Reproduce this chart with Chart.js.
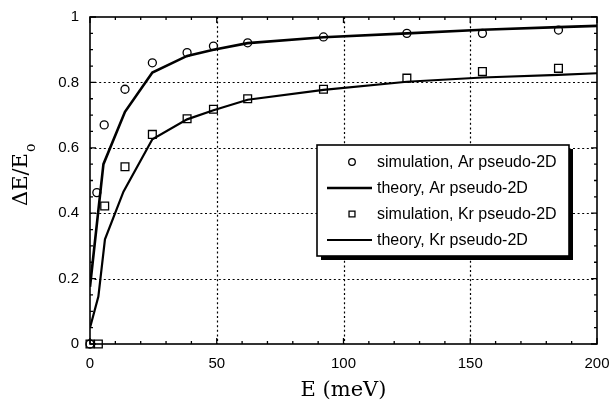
<!DOCTYPE html>
<html>
<head>
<meta charset="utf-8">
<script src="https://cdn.jsdelivr.net/npm/chart.js@4/dist/chart.umd.min.js"></script>
<style>
  html, body { margin: 0; padding: 0; background: #fff; }
  #wrap { width: 613px; height: 403px; }
</style>
</head>
<body>
<div id="wrap"><canvas id="c" width="613" height="403"></canvas></div>
<script>
// ---- data ----
const arSimE = [0, 2.7, 5.6, 13.8, 24.6, 38.3, 48.7, 62.2, 92.1, 125, 154.8, 184.8];
const arSimY = [0, 0.463, 0.670, 0.779, 0.860, 0.891, 0.911, 0.921, 0.939, 0.950, 0.950, 0.960];
const krSimE = [0, 3.3, 5.8, 13.8, 24.6, 38.3, 48.7, 62.2, 92.1, 125, 154.8, 184.8];
const krSimY = [0, 0, 0.422, 0.542, 0.641, 0.689, 0.718, 0.750, 0.779, 0.813, 0.833, 0.843];
const arThE = [0, 5.3, 13.8, 24.6, 38.3, 48.7, 62.2, 92.1, 125, 154.8, 184.8, 200];
const arThY = [0.175, 0.55, 0.71, 0.83, 0.881, 0.900, 0.920, 0.938, 0.950, 0.961, 0.969, 0.973];
const krThE = [0, 3.3, 5.9, 13.2, 24.6, 38.3, 48.7, 62.2, 92.1, 125, 154.8, 184.8, 200];
const krThY = [0.05, 0.145, 0.32, 0.466, 0.626, 0.687, 0.715, 0.747, 0.777, 0.802, 0.815, 0.823, 0.828];
const seriesLabels = ['simulation, Ar pseudo-2D', 'theory, Ar pseudo-2D', 'simulation, Kr pseudo-2D', 'theory, Kr pseudo-2D'];
const xTickValues = [0, 50, 100, 150, 200];
const yTickValues = [0, 0.2, 0.4, 0.6, 0.8, 1];
const xTitle = 'E (meV)';
const yTitleMain = '\u0394E/E';
const yTitleSub = 'o';

const pts = (xs, ys) => xs.map((x, i) => ({ x: x, y: ys[i] }));
const SANS = '"Liberation Sans", Arial, sans-serif';
const SERIF = '"DejaVu Serif", serif';

const framePlugin = {
  id: 'frame',
  afterDatasetsDraw(chart) {
    const ctx = chart.ctx, a = chart.chartArea;
    const xs = chart.scales.x, ys = chart.scales.y;
    ctx.save();
    ctx.strokeStyle = '#000';
    ctx.lineWidth = 1.2;
    ctx.setLineDash([2, 2.6]);
    xTickValues.slice(1, -1).forEach(v => {
      const p = Math.round(xs.getPixelForValue(v)) + 0.5;
      ctx.beginPath(); ctx.moveTo(p, a.top); ctx.lineTo(p, a.bottom); ctx.stroke();
    });
    yTickValues.slice(1, -1).forEach(v => {
      const p = Math.round(ys.getPixelForValue(v)) + 0.5;
      ctx.beginPath(); ctx.moveTo(a.left, p); ctx.lineTo(a.right, p); ctx.stroke();
    });
    ctx.setLineDash([]);
    ctx.lineWidth = 1.3;
    for (let v = 0; v <= 200; v += 10) {
      const p = xs.getPixelForValue(v);
      const len = (v % 50 === 0) ? 6 : 3;
      ctx.beginPath();
      ctx.moveTo(p, a.bottom); ctx.lineTo(p, a.bottom - len);
      ctx.moveTo(p, a.top); ctx.lineTo(p, a.top + len);
      ctx.stroke();
    }
    for (let k = 0; k <= 20; k++) {
      const p = ys.getPixelForValue(k * 0.05);
      const len = (k % 4 === 0) ? 6 : 3;
      ctx.beginPath();
      ctx.moveTo(a.left, p); ctx.lineTo(a.left + len, p);
      ctx.moveTo(a.right, p); ctx.lineTo(a.right - len, p);
      ctx.stroke();
    }
    ctx.lineWidth = 1.6;
    ctx.strokeRect(a.left, a.top, a.right - a.left, a.bottom - a.top);
    ctx.restore();
  },
  afterDraw(chart) {
    const ctx = chart.ctx, a = chart.chartArea;
    ctx.save();
    ctx.fillStyle = '#000';
    ctx.font = '21px ' + SERIF;
    ctx.textAlign = 'center';
    ctx.textBaseline = 'alphabetic';
    ctx.fillText(xTitle, (a.left + a.right) / 2, 396);
    ctx.save();
    ctx.translate(27, 206);
    ctx.rotate(-Math.PI / 2);
    ctx.textAlign = 'left';
    ctx.font = '21px ' + SERIF;
    ctx.fillText(yTitleMain, 0, 0);
    const w = ctx.measureText(yTitleMain).width;
    ctx.font = '14px ' + SERIF;
    ctx.fillText(yTitleSub, w + 1, 8);
    ctx.restore();

    // legend box
    const bx = 317, by = 145, bw = 252, bh = 111;
    ctx.fillStyle = '#000';
    ctx.fillRect(bx + 4, by + 4, bw, bh);
    ctx.fillStyle = '#fff';
    ctx.fillRect(bx, by, bw, bh);
    ctx.strokeStyle = '#000';
    ctx.lineWidth = 1.6;
    ctx.strokeRect(bx, by, bw, bh);
    const rows = [by + 17, by + 43, by + 69, by + 95];
    ctx.font = '16px ' + SANS;
    ctx.textAlign = 'left';
    ctx.textBaseline = 'middle';
    chart.data.datasets.forEach((ds, i) => {
      const y = rows[i];
      ctx.strokeStyle = '#000';
      if (ds.showLine) {
        ctx.lineWidth = ds.borderWidth;
        ctx.beginPath(); ctx.moveTo(bx + 10, y); ctx.lineTo(bx + 55, y); ctx.stroke();
      } else {
        ctx.fillStyle = '#fff';
        ctx.lineWidth = 1.3;
        Chart.helpers.drawPoint(ctx, { pointStyle: ds.pointStyle, radius: ds.pointStyle === 'rect' ? 4.2 : 3.3, rotation: 0, borderWidth: 1.3 }, bx + 35, y);
      }
      ctx.fillStyle = '#000';
      ctx.fillText(ds.label, bx + 60, y + 1);
    });
    ctx.restore();
  }
};

new Chart(document.getElementById('c'), {
  type: 'scatter',
  data: {
    datasets: [
      { label: seriesLabels[0], data: pts(arSimE, arSimY), showLine: false, pointStyle: 'circle',
        pointRadius: 4, pointBorderWidth: 1.3, borderColor: '#000', backgroundColor: 'rgba(0,0,0,0)', clip: false },
      { label: seriesLabels[1], data: pts(arThE, arThY), showLine: true, pointRadius: 0,
        borderWidth: 2.6, borderColor: '#000', backgroundColor: 'rgba(0,0,0,0)', tension: 0 },
      { label: seriesLabels[2], data: pts(krSimE, krSimY), showLine: false, pointStyle: 'rect',
        pointRadius: 5.5, pointBorderWidth: 1.3, borderColor: '#000', backgroundColor: 'rgba(0,0,0,0)', clip: false },
      { label: seriesLabels[3], data: pts(krThE, krThY), showLine: true, pointRadius: 0,
        borderWidth: 2.2, borderColor: '#000', backgroundColor: 'rgba(0,0,0,0)', tension: 0 }
    ]
  },
  options: {
    responsive: false,
    animation: false,
    devicePixelRatio: 1,
    layout: { padding: { left: 0, right: 16, top: 17, bottom: 0 } },
    plugins: { legend: { display: false }, tooltip: { enabled: false }, title: { display: false } },
    scales: {
      x: {
        type: 'linear', min: 0, max: 200,
        afterBuildTicks: s => { s.ticks = xTickValues.map(v => ({ value: v })); },
        ticks: { font: { size: 15, family: SANS }, color: '#000', padding: 11, maxRotation: 0 },
        grid: { display: false, drawTicks: false },
        border: { display: false },
        afterFit: s => { s.height = 59; s.paddingLeft = 0; s.paddingRight = 0; }
      },
      y: {
        type: 'linear', min: 0, max: 1,
        afterBuildTicks: s => { s.ticks = yTickValues.map(v => ({ value: v })); },
        ticks: { font: { size: 15, family: SANS }, color: '#000', padding: 11,
          callback: v => String(Math.round(v * 10) / 10) },
        grid: { display: false, drawTicks: false },
        border: { display: false },
        afterFit: s => { s.width = 90; s.paddingTop = 0; s.paddingBottom = 0; }
      }
    }
  },
  plugins: [framePlugin]
});
</script>
</body>
</html>
